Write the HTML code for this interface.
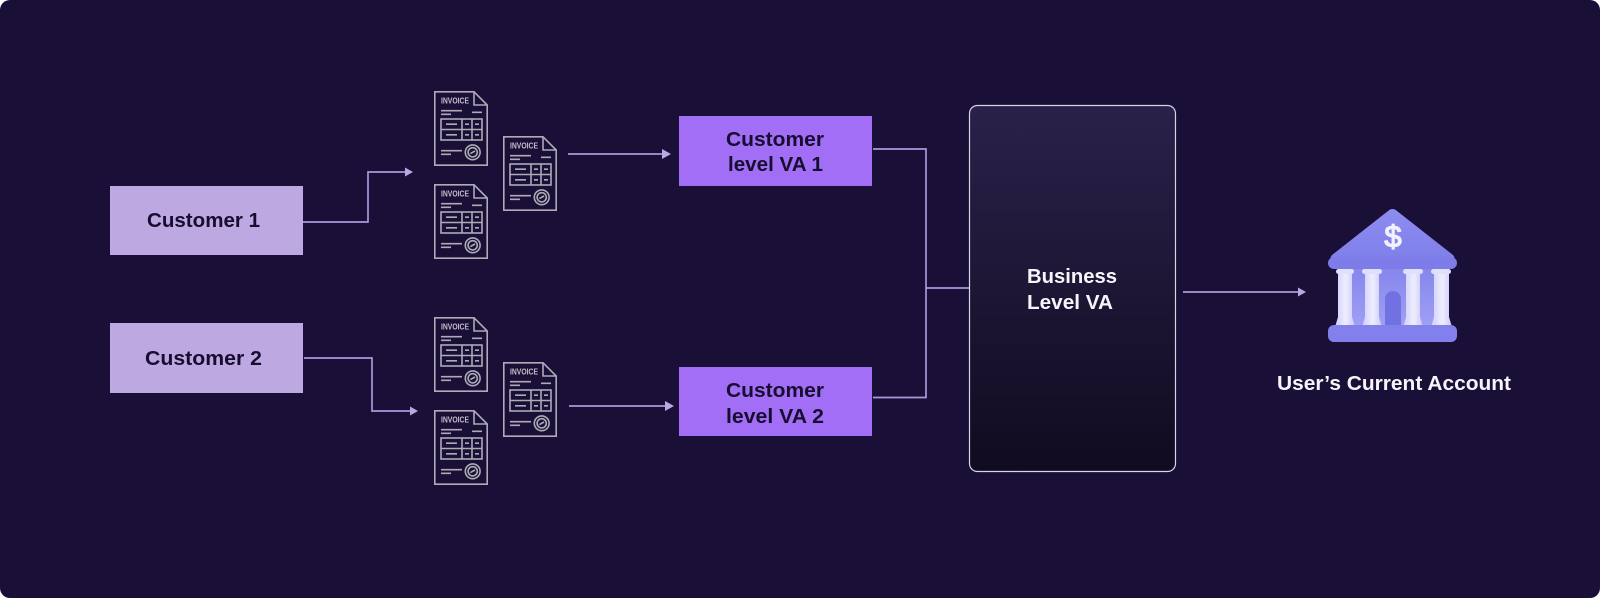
<!DOCTYPE html>
<html lang="en">
<head>
<meta charset="utf-8">
<title>Virtual account flow</title>
<style>
html,body{margin:0;padding:0;background:#fff;width:1600px;height:598px;overflow:hidden}
svg{display:block}
text{font-family:"Liberation Sans",sans-serif}
.lab{font-size:20.5px;font-weight:700;fill:#170d30}
.wlab{font-size:20.5px;font-weight:700;fill:#f7f5fb}
.inv{font-size:8px;font-weight:700;fill:#c2bdca}
.ln{fill:none;stroke:#ab97da;stroke-width:1.7}
.ah{fill:#bba8e3}
.d{fill:none;stroke:#aeaab6;stroke-width:1.6}
</style>
</head>
<body>
<svg width="1600" height="598" viewBox="0 0 1600 598" xmlns="http://www.w3.org/2000/svg">
<defs>
<linearGradient id="biz" x1="0" y1="0" x2="0" y2="1">
<stop offset="0" stop-color="#2a2149"/><stop offset="1" stop-color="#100b20"/>
</linearGradient>
<linearGradient id="col" x1="0" y1="0" x2="1" y2="0">
<stop offset="0" stop-color="#cfcefb"/><stop offset=".55" stop-color="#eeeefe"/><stop offset="1" stop-color="#c8c7f9"/>
</linearGradient>
<linearGradient id="roof" x1="0" y1="0" x2="0" y2="1">
<stop offset="0" stop-color="#8c8cf1"/><stop offset="1" stop-color="#7f7fe9"/>
</linearGradient>
<linearGradient id="wall" x1="0" y1="0" x2="0" y2="1">
<stop offset="0" stop-color="#8585ec"/><stop offset="1" stop-color="#a0a0f5"/>
</linearGradient>
<filter id="soft" x="-5%" y="-5%" width="110%" height="110%"><feGaussianBlur stdDeviation="0.35"/></filter>
<g id="doc">
<path class="d" d="M0.8 0.8H40L53.2 14V74.200H0.8Z"/>
<path class="d" d="M40 0.8V14H53.2"/>
<path class="d" d="M7 19.700H28M7 23.300H17M38 21.300H48"/>
<rect class="d" x="7" y="28" width="41" height="21"/>
<path class="d" d="M7 38.500H48M28 28V49M38 28V49"/>
<path class="d" d="M12 33.200H23M31 33.200H35M41 33.200H45M12 43.800H23M31 43.800H35M41 43.800H45"/>
<path class="d" d="M7 59.700H28M7 63.300H17"/>
<circle class="d" cx="38.700" cy="61.300" r="7.400"/>
<circle class="d" cx="38.700" cy="61.300" r="4.600"/>
<path class="d" stroke-width="2" d="M36.400 62.600L41 60"/>
</g>
</defs>

<rect x="0" y="0" width="1600" height="598" rx="10" fill="#1a0f36"/>

<!-- customers -->
<rect x="110" y="186" width="193" height="69" fill="#bda8e2"/>
<rect x="110" y="323" width="193" height="70" fill="#bda8e2"/>
<text class="lab" x="147" y="227" textLength="113" lengthAdjust="spacingAndGlyphs">Customer 1</text>
<text class="lab" x="145" y="365" textLength="117" lengthAdjust="spacingAndGlyphs">Customer 2</text>

<!-- connectors customers to invoices -->
<path class="ln" d="M303 222H368V172H406"/>
<path class="ah" d="M405 167.500L413 172L405 176.500Z"/>
<path class="ln" d="M304 358H372V411H411"/>
<path class="ah" d="M410 406.500L418 411L410 415.500Z"/>

<!-- invoices -->
<g filter="url(#soft)">
<use href="#doc" x="434" y="91"/>
<text class="inv" x="441" y="103.700" textLength="28" lengthAdjust="spacingAndGlyphs">INVOICE</text>
<use href="#doc" x="503" y="136"/>
<text class="inv" x="510" y="148.700" textLength="28" lengthAdjust="spacingAndGlyphs">INVOICE</text>
<use href="#doc" x="434" y="184"/>
<text class="inv" x="441" y="196.700" textLength="28" lengthAdjust="spacingAndGlyphs">INVOICE</text>
<use href="#doc" x="434" y="317"/>
<text class="inv" x="441" y="329.700" textLength="28" lengthAdjust="spacingAndGlyphs">INVOICE</text>
<use href="#doc" x="503" y="362"/>
<text class="inv" x="510" y="374.700" textLength="28" lengthAdjust="spacingAndGlyphs">INVOICE</text>
<use href="#doc" x="434" y="410"/>
<text class="inv" x="441" y="422.700" textLength="28" lengthAdjust="spacingAndGlyphs">INVOICE</text>
</g>

<!-- arrows to VA -->
<path class="ln" d="M568 154H664"/>
<path class="ah" d="M662 149L671 154L662 159Z"/>
<path class="ln" d="M569 406H667"/>
<path class="ah" d="M665 401L674 406L665 411Z"/>

<!-- VA boxes -->
<rect x="679" y="116" width="193" height="70" fill="#a16ef5"/>
<rect x="679" y="367" width="193" height="69" fill="#a16ef5"/>
<text class="lab" x="726" y="146" textLength="98" lengthAdjust="spacingAndGlyphs">Customer</text>
<text class="lab" x="728" y="171" textLength="95" lengthAdjust="spacingAndGlyphs">level VA 1</text>
<text class="lab" x="726" y="397" textLength="98" lengthAdjust="spacingAndGlyphs">Customer</text>
<text class="lab" x="726" y="423" textLength="98" lengthAdjust="spacingAndGlyphs">level VA 2</text>

<!-- connectors to business -->
<path class="ln" d="M873 149H926V397.500H873"/>
<path class="ln" d="M926 288H969"/>

<!-- business -->
<rect x="969.500" y="105.500" width="206" height="366" rx="8" fill="url(#biz)" stroke="#d8d4e0" stroke-width="1.2"/>
<text class="wlab" x="1027" y="283" textLength="90" lengthAdjust="spacingAndGlyphs">Business</text>
<text class="wlab" x="1027" y="309" textLength="86" lengthAdjust="spacingAndGlyphs">Level VA</text>

<!-- arrow to bank -->
<path class="ln" d="M1183 292H1300"/>
<path class="ah" d="M1298 287.500L1306 292L1298 296.500Z"/>

<!-- bank -->
<rect x="1344" y="266" width="100" height="62" fill="url(#wall)"/>
<path d="M1392.500 209Q1390 209 1388 211L1332 255Q1329 258 1332 262H1453Q1456 258 1453 255L1397 211Q1395 209 1392.500 209Z" fill="url(#roof)"/>
<rect x="1328" y="257" width="129" height="12" rx="6" fill="#7d7ce8"/>
<path d="M1385 326V299a8 8 0 0 1 16 0V326Z" fill="#7271e2"/>
<g fill="url(#col)">
<path d="M1338 272H1352V317L1355 327H1335L1338 317Z"/>
<path d="M1365 272H1379V317L1382 327H1362L1365 317Z"/>
<path d="M1406 272H1420V317L1423 327H1403L1406 317Z"/>
<path d="M1434 272H1449V317L1452 327H1431L1434 317Z"/>
</g>
<g fill="#e0e0fd">
<rect x="1336" y="269" width="18" height="5" rx="2.500"/>
<rect x="1362" y="269" width="20" height="5" rx="2.500"/>
<rect x="1403" y="269" width="20" height="5" rx="2.500"/>
<rect x="1431" y="269" width="20" height="5" rx="2.500"/>
</g>
<rect x="1328" y="325" width="129" height="17" rx="6" fill="#8180ec"/>
<text x="1393" y="247" text-anchor="middle" font-size="31" font-weight="400" fill="#f1f1ff" stroke="#f1f1ff" stroke-width="1.300">$</text>

<text class="wlab" x="1277" y="390" textLength="234" lengthAdjust="spacingAndGlyphs">User’s Current Account</text>
</svg>
</body>
</html>
